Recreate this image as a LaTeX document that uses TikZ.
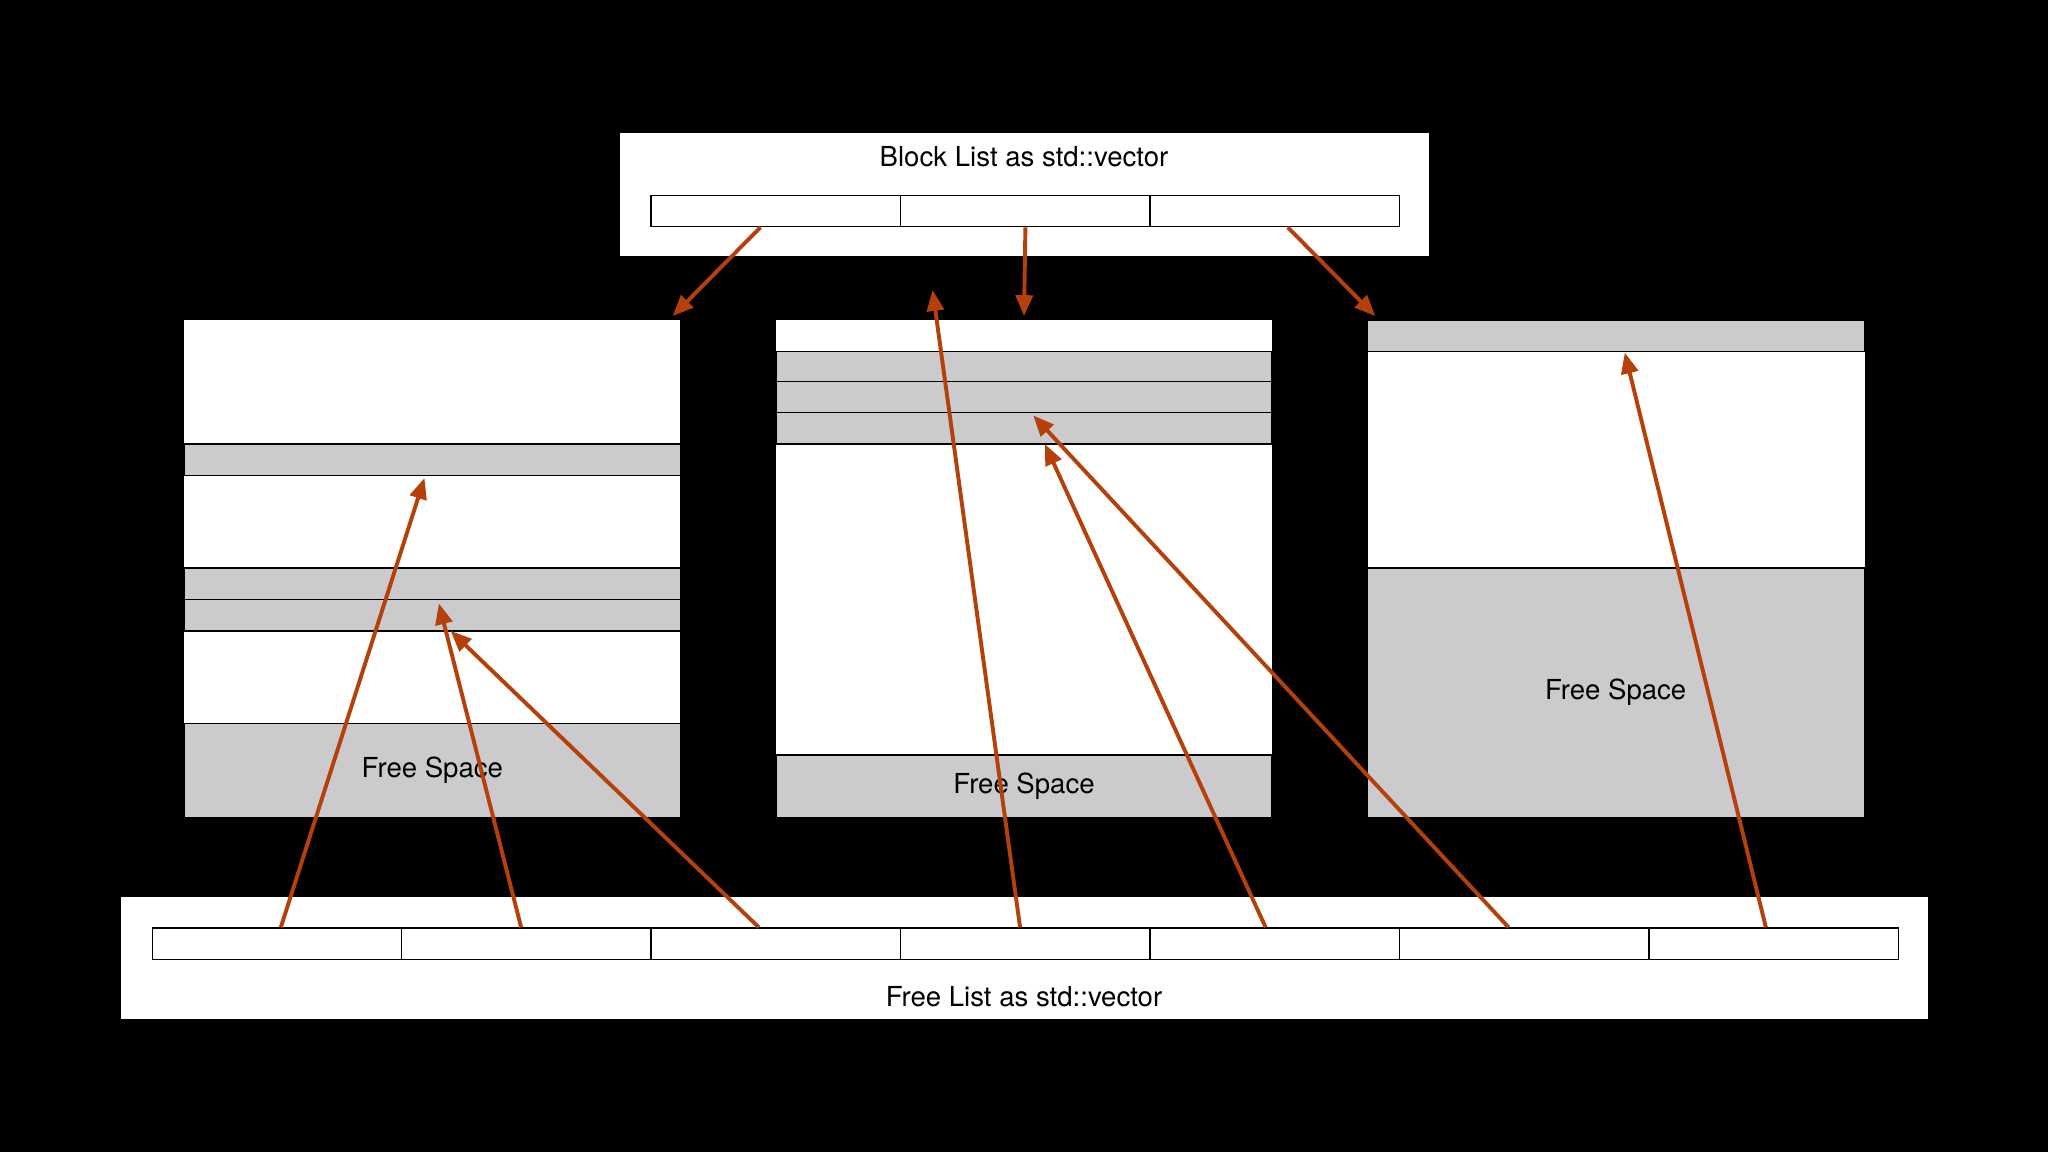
\documentclass[tikz,border=0pt]{standalone}
\usepackage{fontspec}
\setmainfont{TeX Gyre Heros}
\usetikzlibrary{arrows.meta}
\definecolor{rust}{HTML}{B5400A}
\definecolor{freegray}{HTML}{CBCACD}
\tikzset{
  box/.style={draw=black,line width=0.3pt,fill=white},
  cell/.style={draw=black,line width=0.3pt,fill=white,minimum width=1.91cm,minimum height=0.24cm,inner sep=0pt,anchor=north west},
  used/.style={draw=black,line width=0.3pt,fill=freegray},
  lbl/.style={font=\fontsize{6}{7}\selectfont},
  arr/.style={draw=rust,line width=0.85pt,-{Triangle[length=0.16cm,width=0.13cm]}}
}
\begin{document}
\begin{tikzpicture}[x=0.01cm,y=-0.01cm]
  \fill[black] (0,0) rectangle (1568,882);
  % block list
  \fill[white] (475,102) rectangle (1094,196);
  \node[lbl] (bltitle) at (784,120) {Block List as std::vector};
  \foreach \i in {0,1,2}
    \node[cell] (b\i) at (498+\i*191,149) {};
  % blocks
  \fill[white] (141,245) rectangle (521,626);
  \fill[white] (594,245) rectangle (974,626);
  \fill[white] (1047,245) rectangle (1428,626);
  \draw[used] (141,340) rectangle (521,364);
  \draw[used] (141,435) rectangle (521,459);
  \draw[used] (141,459) rectangle (521,483);
  \draw[used] (141,554) rectangle (521,626);
  \draw[used] (594,269) rectangle (974,292);
  \draw[used] (594,292) rectangle (974,316);
  \draw[used] (594,316) rectangle (974,340);
  \draw[used] (594,578) rectangle (974,626);
  \draw[used] (1047,245) rectangle (1428,269);
  \draw[used] (1047,435) rectangle (1428,626);
  \node[lbl] (fs1) at (331,590) {Free Space};
  \node[lbl] (fs2) at (784,602) {Free Space};
  \node[lbl] (fs3) at (1237,530) {Free Space};
  % free list
  \fill[white] (93,687) rectangle (1476,780);
  \node[lbl] (fltitle) at (784,763) {Free List as std::vector};
  \foreach \i in {0,...,6}
    \node[cell] (f\i) at (116+\i*191,710) {};
  % targets
  \coordinate (t1) at (515,242);
  \coordinate (t2) at (784,242);
  \coordinate (t3) at (1053,242);
  \coordinate (u1) at (325,366);
  \coordinate (u2) at (336,462);
  \coordinate (u3) at (345,483);
  \coordinate (u4) at (714,222);
  \coordinate (u5) at (800,340);
  \coordinate (u6) at (791,318);
  \coordinate (u7) at (1244,270);
  % block pointers
  \draw[arr] (b0.south east) ++(-108,0) -- (t1);
  \draw[arr] (b1.south) -- (t2);
  \draw[arr] (b2.south west) ++(106,0) -- (t3);
  % free pointers
  \draw[arr] (f0.north west) ++(99,0) -- (u1);
  \draw[arr] (f1.north west) ++(92,0) -- (u2);
  \draw[arr] (f2.north west) ++(83,0) -- (u3);
  \draw[arr] (f3.north west) ++(92,0) -- (u4);
  \draw[arr] (f4.north west) ++(89,0) -- (u5);
  \draw[arr] (f5.north west) ++(84,0) -- (u6);
  \draw[arr] (f6.north west) ++(90,0) -- (u7);
\end{tikzpicture}
\end{document}
